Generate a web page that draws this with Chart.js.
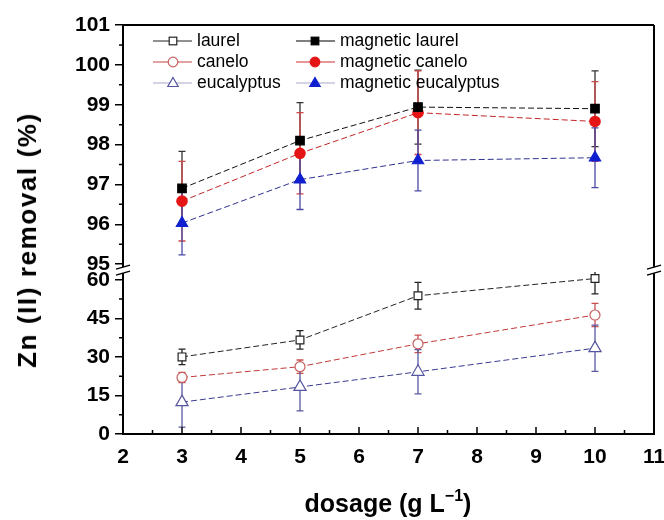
<!DOCTYPE html>
<html><head><meta charset="utf-8">
<script src="https://cdn.jsdelivr.net/npm/chart.js@4/dist/chart.umd.min.js"></script>
<style>
body{margin:0;background:#fff;}
#wrap{position:relative;width:664px;height:520px;overflow:hidden;font-family:'Liberation Sans',Arial,sans-serif;color:#000;}
#c{position:absolute;left:0;top:0;}
#ytitle{position:absolute;left:27px;top:240px;transform:translate(-50%,-50%) rotate(-90deg);white-space:nowrap;font-weight:bold;font-size:26px;letter-spacing:1.6px;line-height:1;}
#xtitle{position:absolute;left:388px;top:491px;transform:translateX(-50%);font-weight:bold;font-size:25px;white-space:nowrap;line-height:1;}
#xtitle .sup{font-size:16px;position:relative;top:-11px;}
.lg{position:absolute;font-size:17.5px;white-space:nowrap;line-height:20px;}
.lm{position:absolute;}
</style></head>
<body><div id="wrap">
<canvas id="c" width="664" height="520"></canvas>
<div id="ytitle">Zn (II) removal (%)</div>
<div id="xtitle">dosage (g L<span class="sup">&minus;1</span>)</div>
</div>
<script>
// ---- data ----
const dosage = [3, 5, 7, 10];
const laurel = [30.0, 36.6, 53.8, 60.5];
const laurelErr = [3.0, 3.6, 5.2, 6.0];
const canelo = [22.0, 26.2, 35.1, 46.3];
const caneloErr = [2.0, 2.6, 3.4, 4.5];
const eucalyptus = [12.4, 18.3, 24.2, 33.4];
const eucalyptusErr = [9.7, 9.3, 8.6, 9.0];
const magLaurel = [96.9, 98.1, 98.94, 98.9];
const magLaurelErr = [0.93, 0.95, 0.93, 0.95];
const magCanelo = [96.58, 97.78, 98.8, 98.58];
const magCaneloErr = [1.0, 1.02, 1.05, 1.0];
const magEucalyptus = [96.03, 97.12, 97.6, 97.67];
const magEucalyptusErr = [0.8, 0.75, 0.76, 0.75];
const seriesNames = ['laurel', 'canelo', 'eucalyptus', 'magnetic laurel', 'magnetic canelo', 'magnetic eucalyptus'];
const xTicks = [2, 3, 4, 5, 6, 7, 8, 9, 10, 11];
const xMinorTicks = [2.5, 3.5, 4.5, 5.5, 6.5, 7.5, 8.5, 9.5, 10.5];
const yTopTicks = [95, 96, 97, 98, 99, 100, 101];
const yTopMinorTicks = [95.5, 96.5, 97.5, 98.5, 99.5, 100.5];
const yBottomTicks = [0, 15, 30, 45, 60];
const yBottomMinorTicks = [7.5, 22.5, 37.5, 52.5];

const pts = arr => dosage.map((x, i) => ({x: x, y: arr[i]}));

const styles = [
  {line:'#222', border:'#222', fill:'#ffffff', shape:'rect', r:5.5, err:'#222', axis:'yBot'},
  {line:'#c03a3a', border:'#c86060', fill:'#ffffff', shape:'circle', r:5, err:'#c85050', axis:'yBot'},
  {line:'#3a3a90', border:'#5555a0', fill:'#ffffff', shape:'triangle', r:7, err:'#5a5aa0', axis:'yBot'},
  {line:'#111', border:'#000', fill:'#000', shape:'rect', r:6, err:'#333', axis:'yTop'},
  {line:'#c02525', border:'#e51515', fill:'#e51515', shape:'circle', r:5.2, err:'#d04545', axis:'yTop'},
  {line:'#303090', border:'#1020d0', fill:'#1020d0', shape:'triangle', r:6.5, err:'#4a4aa5', axis:'yTop'}
];
const values = [laurel, canelo, eucalyptus, magLaurel, magCanelo, magEucalyptus];
const errs = [laurelErr, caneloErr, eucalyptusErr, magLaurelErr, magCaneloErr, magEucalyptusErr];
const legendLine = ['#222', '#c84545', '#a8a8c8', '#000', '#d03030', '#a8a8c8'];

const datasets = values.map((v, i) => ({
  label: seriesNames[i],
  data: pts(v),
  errors: errs[i],
  errColor: styles[i].err,
  yAxisID: styles[i].axis,
  borderColor: styles[i].line,
  borderWidth: 1,
  borderDash: [6, 3],
  pointStyle: styles[i].shape,
  pointRadius: styles[i].r,
  pointBorderWidth: 1.2,
  pointBorderColor: styles[i].border,
  pointBackgroundColor: styles[i].fill,
  tension: 0
}));

const setTicks = arr => scale => { scale.ticks = arr.map(v => ({value: v})); };
const fixW = scale => { scale.width = 123; };

const errorBars = {
  id: 'errorBars',
  beforeDatasetsDraw(chart) {
    const ctx = chart.ctx, xs = chart.scales.x;
    chart.data.datasets.forEach(ds => {
      const ys = chart.scales[ds.yAxisID];
      ctx.save();
      ctx.beginPath();
      ctx.rect(xs.left, ys.top, xs.right - xs.left, ys.bottom - ys.top);
      ctx.clip();
      ctx.strokeStyle = ds.errColor;
      ctx.lineWidth = 1.3;
      ds.data.forEach((p, i) => {
        const e = ds.errors[i];
        const px = xs.getPixelForValue(p.x);
        const yt = ys.getPixelForValue(p.y + e), yb = ys.getPixelForValue(p.y - e);
        ctx.beginPath();
        ctx.moveTo(px, yt); ctx.lineTo(px, yb);
        ctx.moveTo(px - 3.5, yt); ctx.lineTo(px + 3.5, yt);
        ctx.moveTo(px - 3.5, yb); ctx.lineTo(px + 3.5, yb);
        ctx.stroke();
      });
      ctx.restore();
    });
  }
};

const frame = {
  id: 'frame',
  afterDraw(chart) {
    const ctx = chart.ctx, a = chart.chartArea;
    const xs = chart.scales.x, yt = chart.scales.yTop, yb = chart.scales.yBot, g = chart.scales.yGap;
    ctx.save();
    ctx.strokeStyle = '#000';
    // minor + inward ticks
    ctx.lineWidth = 1.5;
    ctx.beginPath();
    xTicks.forEach(v => { const p = xs.getPixelForValue(v); ctx.moveTo(p, a.bottom); ctx.lineTo(p, a.bottom - 7); });
    xMinorTicks.forEach(v => { const p = xs.getPixelForValue(v); ctx.moveTo(p, a.bottom); ctx.lineTo(p, a.bottom - 4); });
    yTopMinorTicks.forEach(v => { const p = yt.getPixelForValue(v); ctx.moveTo(a.left, p); ctx.lineTo(a.left - 4, p); });
    yBottomMinorTicks.forEach(v => { const p = yb.getPixelForValue(v); ctx.moveTo(a.left, p); ctx.lineTo(a.left - 4, p); });
    ctx.stroke();
    // top + right border
    const gy = (g.top + g.bottom) / 2;
    ctx.lineWidth = 2;
    ctx.beginPath();
    ctx.moveTo(a.left - 1, a.top); ctx.lineTo(a.right, a.top);
    ctx.moveTo(a.right, a.top); ctx.lineTo(a.right, a.bottom);
    ctx.stroke();
    // break marks
    ctx.fillStyle = '#fff';
    [a.left, a.right].forEach(x => {
      ctx.fillRect(x - 2, gy - 3, 4, 6);
      ctx.lineWidth = 1.5;
      ctx.beginPath();
      ctx.moveTo(x - 7, gy - 1); ctx.lineTo(x + 7, gy - 5);
      ctx.moveTo(x - 7, gy + 5); ctx.lineTo(x + 7, gy + 1);
      ctx.stroke();
    });
    ctx.restore();
  }
};

const tickFont = {family: "'Liberation Sans', Arial, sans-serif", size: 21, weight: 'bold'};
const yGrid = {drawOnChartArea: false, drawTicks: true, tickLength: 8, color: '#000', lineWidth: 1.5};

new Chart(document.getElementById('c'), {
  type: 'line',
  data: {datasets: datasets},
  options: {
    responsive: false,
    animation: false,
    events: [],
    layout: {padding: {left: 0, right: 10, top: 25, bottom: 0}},
    plugins: {legend: {display: false}, tooltip: {enabled: false}},
    scales: {
      x: {
        type: 'linear', position: 'bottom', min: 2, max: 11,
        afterBuildTicks: setTicks(xTicks),
        afterFit: s => { s.height = 86; s.paddingLeft = 0; s.paddingRight = 0; },
        grid: {drawOnChartArea: false, drawTicks: false},
        border: {display: true, color: '#000', width: 2},
        ticks: {font: tickFont, color: '#000', padding: 11, maxRotation: 0, autoSkip: false}
      },
      yBot: {
        type: 'linear', position: 'left', stack: 'y', stackWeight: 161.7, min: 0, max: 63,
        afterBuildTicks: setTicks(yBottomTicks), afterFit: fixW,
        grid: yGrid, border: {display: true, color: '#000', width: 2},
        ticks: {font: tickFont, color: '#000', padding: 5, autoSkip: false}
      },
      yGap: {
        type: 'linear', position: 'left', stack: 'y', stackWeight: 4, min: 0, max: 1,
        afterFit: fixW,
        grid: {display: false}, border: {display: false}, ticks: {display: false}
      },
      yTop: {
        type: 'linear', position: 'left', stack: 'y', stackWeight: 242.8, min: 94.9, max: 101,
        afterBuildTicks: setTicks(yTopTicks), afterFit: fixW,
        grid: yGrid, border: {display: true, color: '#000', width: 2},
        ticks: {font: tickFont, color: '#000', padding: 5, autoSkip: false}
      }
    }
  },
  plugins: [errorBars, frame]
});

// ---- legend (HTML text) ----
const wrap = document.getElementById('wrap');
const cols = [{l1: 153, l2: 192, m: 173, t: 197}, {l1: 296, l2: 335, m: 315, t: 340}];
const rows = [41, 62, 83];
const order = [[0, 0, 0], [1, 0, 1], [2, 0, 2], [3, 1, 0], [4, 1, 1], [5, 1, 2]];
order.forEach(([i, c, r]) => {
  const col = cols[c], cy = rows[r], st = styles[i];
  const w = col.l2 - col.l1;
  let shape = '';
  const mx = col.m - col.l1, my = 8;
  if (st.shape === 'rect') shape = `<rect x="${mx - 3.8}" y="${my - 3.8}" width="7.6" height="7.6" fill="${st.fill}" stroke="${st.border}" stroke-width="1.2"/>`;
  else if (st.shape === 'circle') shape = `<circle cx="${mx}" cy="${my}" r="4.8" fill="${st.fill}" stroke="${st.border}" stroke-width="1.2"/>`;
  else shape = `<polygon points="${mx},${my - 5.5} ${mx + 5.2},${my + 3.5} ${mx - 5.2},${my + 3.5}" fill="${st.fill}" stroke="${st.border}" stroke-width="1.2"/>`;
  const svg = document.createElement('div');
  svg.className = 'lm';
  svg.style.left = col.l1 + 'px';
  svg.style.top = (cy - 8) + 'px';
  svg.innerHTML = `<svg width="${w}" height="16"><line x1="0" y1="8" x2="${w}" y2="8" stroke="${legendLine[i]}" stroke-width="1.2"/>${shape}</svg>`;
  wrap.appendChild(svg);
  const t = document.createElement('div');
  t.className = 'lg';
  t.style.left = col.t + 'px';
  t.style.top = (cy - 11) + 'px';
  t.textContent = seriesNames[i];
  wrap.appendChild(t);
});
</script>
</body></html>
